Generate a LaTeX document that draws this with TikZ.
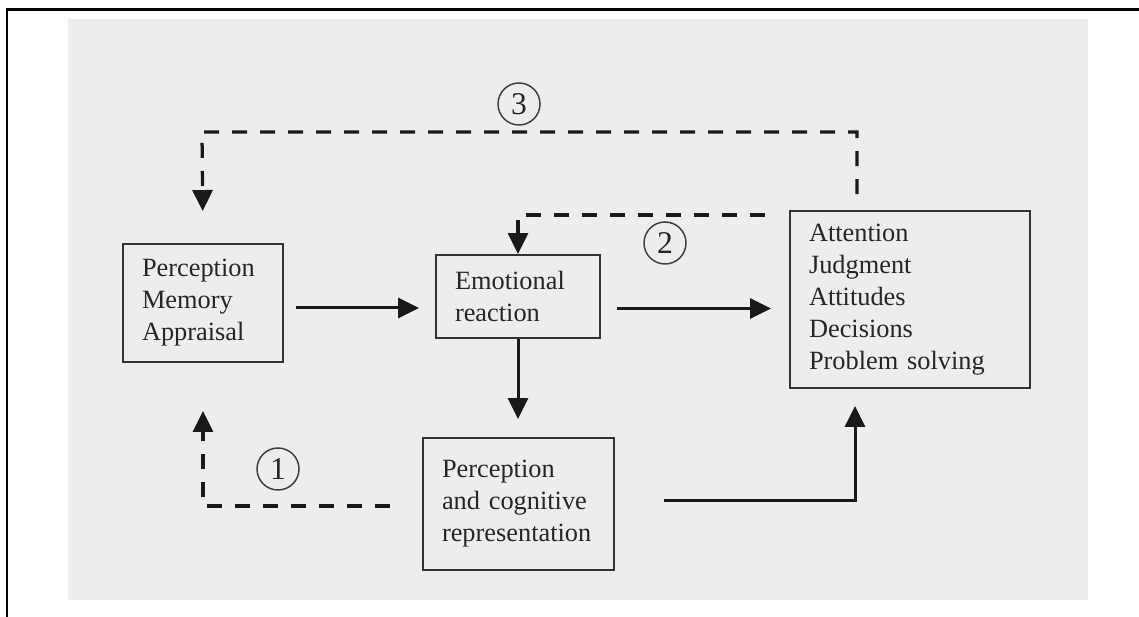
\documentclass[tikz,border=0pt]{standalone}
\usepackage{fontspec}
\setmainfont{Liberation Serif}
\usetikzlibrary{arrows.meta}

\begin{document}
\begin{tikzpicture}[x=0.02cm,y=-0.02cm,
  box/.style={draw=black!80,line width=0.04cm,align=left,inner xsep=0.38cm,inner ysep=0pt,text=black!85,font=\fontsize{15}{18.2}\selectfont},
  arr/.style={draw=black!90,line width=0.06cm,-{Triangle[length=0.42cm,width=0.4cm]}},
  dasharr/.style={arr,line width=0.065cm,dash pattern=on 0.3cm off 0.26cm},
  num/.style={circle,draw=black!75,line width=0.03cm,minimum size=0.84cm,inner sep=0pt,text=black!85,font=\fontsize{18}{20}\selectfont}]
\useasboundingbox (0,0) rectangle (1139,617);
\fill[black!7] (68,19) rectangle (1088,600);
\draw[line width=0.05cm] (1139,9.5) -- (7,9.5) -- (7,617);
% boxes
\node[box,text width=2.44cm,minimum height=2.36cm] (pma) at (203,303) {Perception\\Memory\\Appraisal};
\node[box,text width=2.52cm,minimum height=1.66cm] (emo) at (518,296.5) {Emotional\\reaction};
\node[box,text width=4.04cm,minimum height=3.54cm] (out) at (910,299.5) {Attention\\Judgment\\Attitudes\\Decisions\\Problem solving};
\node[box,text width=3.06cm,minimum height=2.64cm] (rep) at (518.5,504) {Perception\\and cognitive\\representation};
% numbered loops
\node[num] (n1) at (278,469) {1};
\node[num] (n2) at (665,243) {2};
\node[num] (n3) at (519,104) {3};
\coordinate (loop3) at (202,132);
% solid arrows
\draw[arr,shorten <=0.24cm,shorten >=0.32cm] ([yshift=-0.1cm]pma.east) -- ([yshift=-0.1cm]pma.east -| emo.west);
\draw[arr,shorten <=0.32cm,shorten >=0.36cm] ([yshift=-0.24cm]emo.east) -- ([yshift=-0.24cm]emo.east -| out.west);
\draw[arr,shorten >=0.36cm] (emo.south) -- (emo.south |- rep.north);
\draw[arr,shorten >=0.34cm] ([xshift=0.98cm,yshift=0.06cm]rep.east) -| ([xshift=-1.1cm]out.south);
% dashed loops
\draw[dasharr,shorten >=0.96cm] ([xshift=-0.64cm,yshift=-0.04cm]rep.west) -| (pma.south);
\draw[dasharr] ([xshift=-0.48cm,yshift=-0.1cm]out.north west) -| (emo.north);
\draw[dasharr,shorten <=0.32cm,shorten >=0.64cm] ([xshift=-1.06cm]out.north) |- (loop3) -- (pma.north);
\end{tikzpicture}
\end{document}
